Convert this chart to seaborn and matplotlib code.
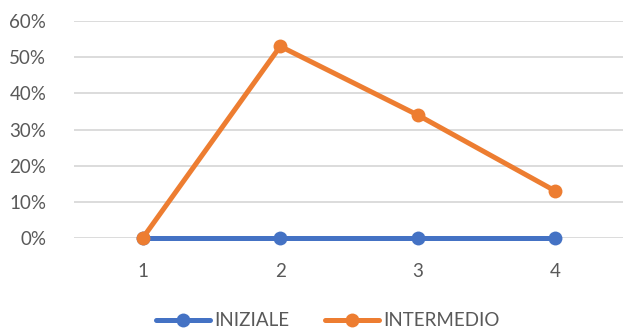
import matplotlib
matplotlib.use("Agg")
import matplotlib.pyplot as plt
import seaborn as sns
import pandas as pd
from matplotlib.ticker import PercentFormatter
from matplotlib.lines import Line2D

categories = [1, 2, 3, 4]
iniziale = [0.0, 0.0, 0.0, 0.0]
intermedio = [0.0, 0.53, 0.34, 0.13]
series_names = ["INIZIALE", "INTERMEDIO"]
colors = ["#4472C4", "#ED7D31"]
y_ticks = [0, 0.1, 0.2, 0.3, 0.4, 0.5, 0.6]

df = pd.DataFrame({
    "x": categories * 2,
    "value": iniziale + intermedio,
    "serie": [series_names[0]] * 4 + [series_names[1]] * 4,
})

sns.set_theme(style="white")
plt.rcParams["font.family"] = ["Lato", "DejaVu Sans"]

fig = plt.figure(figsize=(6.23, 3.29), dpi=100)
ax = fig.add_axes([74 / 623, 1 - 238 / 329, 550 / 623, (238 - 21) / 329])

sns.lineplot(data=df, x="x", y="value", hue="serie", palette=colors,
             marker="o", markersize=10, linewidth=3.6, markeredgewidth=0,
             ax=ax, legend=False)
for ln in ax.lines:
    ln.set_clip_on(False)
ax.lines[0].set_zorder(3)
ax.lines[1].set_zorder(4)

ax.set_xlim(0.5, 4.5)
ax.set_ylim(0, 0.6)
ax.set_yticks(y_ticks)
ax.set_xticks(categories)
ax.set_xticklabels([str(c) for c in categories])
ax.yaxis.set_major_formatter(PercentFormatter(1.0, decimals=0))
ax.grid(axis="y", color="#D9D9D9", linewidth=1.3)
ax.set_axisbelow(True)
for s in ax.spines.values():
    s.set_visible(False)
ax.tick_params(axis="both", length=0, labelsize=13.5, labelcolor="#595959")
ax.tick_params(axis="y", pad=20)
ax.tick_params(axis="x", pad=18)
ax.set_xlabel("")
ax.set_ylabel("")

handles = [Line2D([0], [0], color=c, linewidth=3.6, marker="o", markersize=10,
                  markeredgewidth=0) for c in colors]
leg = fig.legend(handles, series_names, loc="center", bbox_to_anchor=(0.526, 0.025),
                 ncol=2, frameon=False, fontsize=13.5, handlelength=2.9,
                 handletextpad=0.2, columnspacing=1.9, labelcolor="#595959")

fig.savefig("out.png", dpi=100)
